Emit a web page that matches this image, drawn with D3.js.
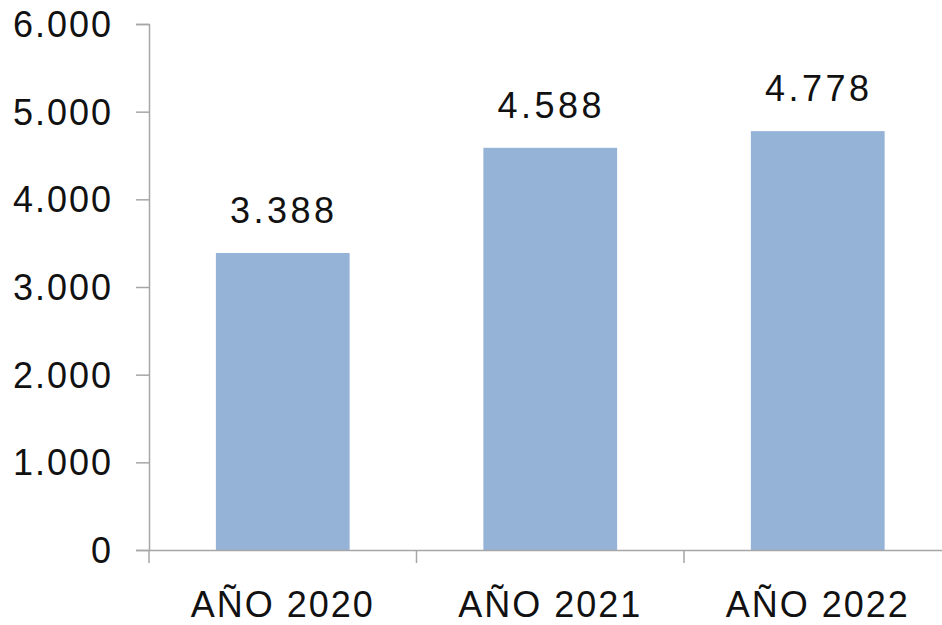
<!DOCTYPE html>
<html><head><meta charset="utf-8">
<script src="https://cdn.jsdelivr.net/npm/d3@7"></script>
<style>body{margin:0;background:#fff}svg{display:block}</style>
</head><body>
<svg id="c" width="942" height="625"></svg>
<script>
const categories = ["AÑO 2020", "AÑO 2021", "AÑO 2022"];
const values = [3388, 4588, 4778];
const yTicks = [0, 1000, 2000, 3000, 4000, 5000, 6000];

const fmt = v => d3.format(",")(v).replace(/,/g, ".");
const svg = d3.select("#c");
const x = d3.scaleBand().domain(categories).range([149, 951.5]).padding(0);
const y = d3.scaleLinear().domain([0, 6000]).range([550, 24]);
const font = "'Liberation Sans', Arial, sans-serif";

// bars
svg.selectAll("rect.bar").data(values).enter().append("rect")
  .attr("x", (d, i) => x(categories[i]) + x.bandwidth() * 0.25)
  .attr("width", x.bandwidth() * 0.5)
  .attr("y", d => y(d))
  .attr("height", d => y(0) - y(d))
  .attr("fill", "#95B3D7");

// y axis
const yAxis = svg.append("g").attr("transform", "translate(149,0)")
  .call(d3.axisLeft(y).tickValues(yTicks).tickFormat(fmt).tickSize(13).tickPadding(23));
yAxis.select(".domain").attr("stroke", "#A6A6A6").attr("stroke-width", 1.5);
yAxis.selectAll(".tick line").attr("stroke", "#A6A6A6").attr("stroke-width", 1.5);
yAxis.selectAll(".tick text").attr("font-family", font).attr("font-size", 36)
  .attr("fill", "#111").attr("letter-spacing", 2).attr("dy", "0.35em");

// x axis
const xAxis = svg.append("g").attr("transform", "translate(0,550)")
  .call(d3.axisBottom(x).tickSize(0).tickPadding(0));
xAxis.select(".domain").attr("stroke", "#A6A6A6").attr("stroke-width", 1.5);
xAxis.selectAll(".tick text").attr("font-family", font).attr("font-size", 36)
  .attr("fill", "#111").attr("letter-spacing", 2).attr("y", 67).attr("dy", 0);
// category separator ticks at band boundaries
const bounds = categories.map(c => x(c)).concat([x(categories[2]) + x.bandwidth()]);
xAxis.selectAll("line.sep").data(bounds).enter().append("line")
  .attr("x1", d => d).attr("x2", d => d).attr("y1", 0).attr("y2", 13)
  .attr("stroke", "#A6A6A6").attr("stroke-width", 1.5);

// data labels
svg.selectAll("text.lbl").data(values).enter().append("text")
  .attr("x", (d, i) => x(categories[i]) + x.bandwidth() / 2 + 1)
  .attr("y", d => y(d) - 30)
  .attr("text-anchor", "middle")
  .attr("font-family", font).attr("font-size", 36).attr("letter-spacing", 3.5)
  .attr("fill", "#111")
  .text(d => fmt(d));
</script>
</body></html>
